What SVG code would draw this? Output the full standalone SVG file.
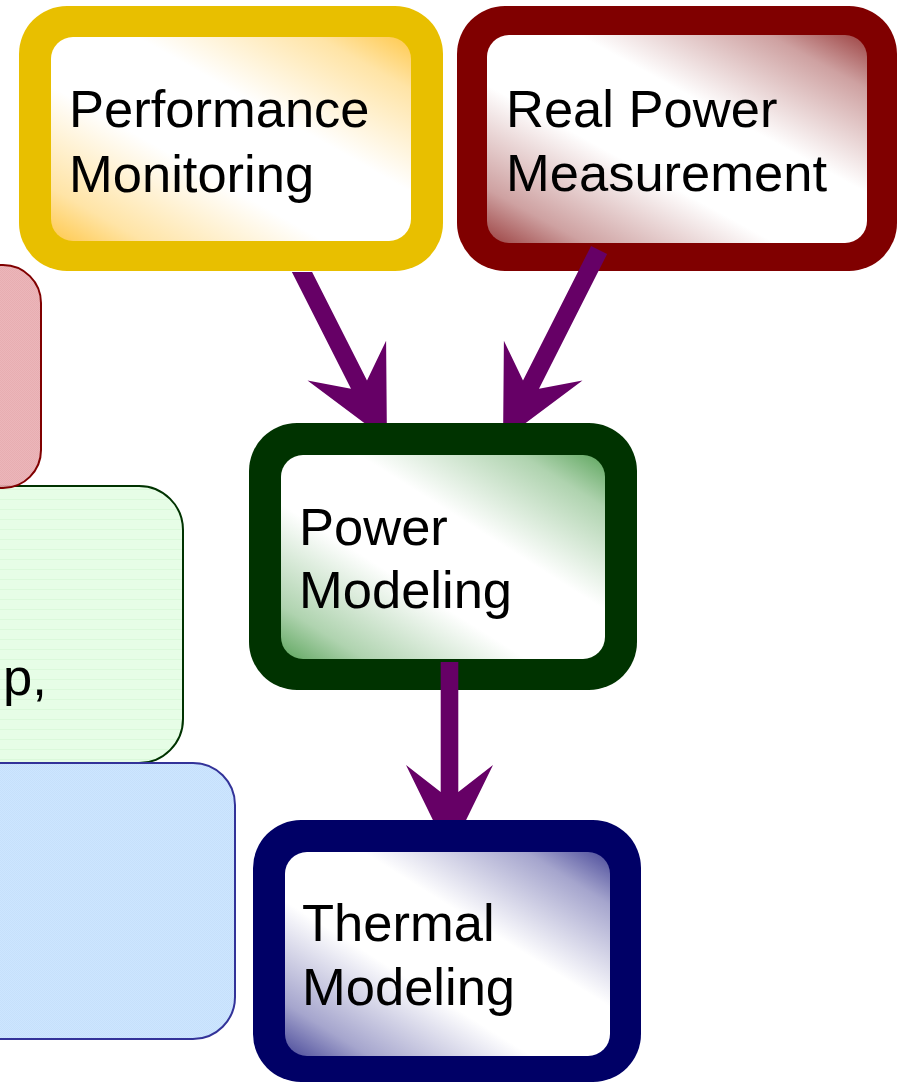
<svg xmlns="http://www.w3.org/2000/svg" width="899" height="1083" viewBox="0 0 899 1083">
  <defs>
    <style>
      .label { font-family: "Liberation Sans", Arial, sans-serif; font-size: 52.5px; fill: #000000; }
      .arrow { fill: #660066; }
      .side { stroke-width: 2; }
    </style>
    <!-- diagonal fills: tint at top-right and bottom-left, white across the middle -->
    <linearGradient id="gYellow" x1="0" y1="1" x2="1" y2="0">
      <stop offset="0" stop-color="#ffc94d"/>
      <stop offset="0.13" stop-color="#ffe4a6"/>
      <stop offset="0.38" stop-color="#ffffff"/>
      <stop offset="0.62" stop-color="#ffffff"/>
      <stop offset="0.87" stop-color="#ffe4a6"/>
      <stop offset="1" stop-color="#ffc94d"/>
    </linearGradient>
    <linearGradient id="gRed" x1="0" y1="1" x2="1" y2="0">
      <stop offset="0" stop-color="#9c4242"/>
      <stop offset="0.13" stop-color="#cea1a1"/>
      <stop offset="0.38" stop-color="#ffffff"/>
      <stop offset="0.62" stop-color="#ffffff"/>
      <stop offset="0.87" stop-color="#cea1a1"/>
      <stop offset="1" stop-color="#9c4242"/>
    </linearGradient>
    <linearGradient id="gGreen" x1="0" y1="1" x2="1" y2="0">
      <stop offset="0" stop-color="#5ea65e"/>
      <stop offset="0.13" stop-color="#afd3af"/>
      <stop offset="0.38" stop-color="#ffffff"/>
      <stop offset="0.62" stop-color="#ffffff"/>
      <stop offset="0.87" stop-color="#afd3af"/>
      <stop offset="1" stop-color="#5ea65e"/>
    </linearGradient>
    <linearGradient id="gBlue" x1="0" y1="1" x2="1" y2="0">
      <stop offset="0" stop-color="#4a4a9a"/>
      <stop offset="0.13" stop-color="#a5a5cd"/>
      <stop offset="0.38" stop-color="#ffffff"/>
      <stop offset="0.62" stop-color="#ffffff"/>
      <stop offset="0.87" stop-color="#a5a5cd"/>
      <stop offset="1" stop-color="#4a4a9a"/>
    </linearGradient>
    <!-- textured fills of the side panels -->
    <pattern id="pPink" width="2" height="2" patternUnits="userSpaceOnUse">
      <rect width="2" height="2" fill="#eab0b4"/>
      <rect width="1" height="1" fill="#e5a6aa"/>
      <rect x="1" y="1" width="1" height="1" fill="#e5a6aa"/>
    </pattern>
    <pattern id="pGreen" width="10" height="10" patternUnits="userSpaceOnUse">
      <rect width="10" height="10" fill="#e6fde6"/>
      <rect y="9" width="10" height="1" fill="#daf9da"/>
    </pattern>
    <pattern id="pBlue" width="2" height="2" patternUnits="userSpaceOnUse">
      <rect width="2" height="2" fill="#cde6ff"/>
      <rect width="1" height="1" fill="#c6e0fb"/>
      <rect x="1" y="1" width="1" height="1" fill="#c6e0fb"/>
    </pattern>
  </defs>

  <rect width="899" height="1083" fill="#ffffff"/>

  <!-- side panels, partly off the left edge -->
  <g id="panel-green">
    <rect class="side" x="-300" y="486" width="483" height="277" rx="44" fill="url(#pGreen)" stroke="#003300"/>
    <text class="label" x="3" y="695">p,</text>
  </g>
  <g id="panel-pink">
    <rect class="side" x="-300" y="265" width="341" height="223" rx="38" fill="url(#pPink)" fill-opacity="0.92" stroke="#800000"/>
  </g>
  <g id="panel-blue">
    <rect class="side" x="-300" y="763" width="535" height="276" rx="42" fill="url(#pBlue)" stroke="#333399"/>
  </g>

  <!-- main nodes -->
  <g id="performance-monitoring">
    <rect x="19" y="6" width="424" height="265" rx="48" fill="#e8bf00"/>
    <rect x="51" y="37" width="360" height="204" rx="22" fill="url(#gYellow)"/>
    <text class="label" x="69" y="127">Performance</text>
    <text class="label" x="69" y="192">Monitoring</text>
  </g>

  <g id="real-power-measurement">
    <rect x="457" y="6" width="440" height="265" rx="48" fill="#800000"/>
    <rect x="487" y="35" width="380" height="208" rx="22" fill="url(#gRed)"/>
    <text class="label" x="506" y="127">Real Power</text>
    <text class="label" x="506" y="191">Measurement</text>
  </g>

  <g id="power-modeling">
    <rect x="249" y="423" width="388" height="267" rx="48" fill="#003300"/>
    <rect x="281" y="455" width="324" height="204" rx="22" fill="url(#gGreen)"/>
    <text class="label" x="299" y="545">Power</text>
    <text class="label" x="299" y="608">Modeling</text>
  </g>

  <g id="thermal-modeling">
    <rect x="253" y="820" width="388" height="262" rx="48" fill="#000066"/>
    <rect x="285" y="852" width="325" height="204" rx="22" fill="url(#gBlue)"/>
    <text class="label" x="302" y="941">Thermal</text>
    <text class="label" x="302" y="1005">Modeling</text>
  </g>

  <!-- connectors: notched arrowheads, cut where they meet the target box -->
  <g id="connectors">
    <polygon class="arrow" points="291.9,272 312.1,272 367,380.6 386.1,340.7 386.8,423 364.3,423 307.5,380.5 351,388.8"/>
    <polygon class="arrow" points="591.1,245.9 607.1,254.1 539,388.8 582.5,380.5 525.7,423 503.2,423 503.9,340.7 523,380.6"/>
    <polygon class="arrow" points="440.7,662 458.3,662 458.3,792 493,765 466.1,820 432.9,820 406,765 440.7,792"/>
  </g>
</svg>
